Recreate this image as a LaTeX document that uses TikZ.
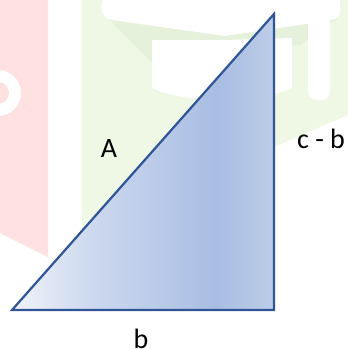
\documentclass[tikz,border=0pt]{standalone}
\usepackage{fontspec}
\setmainfont{Carlito}
\definecolor{edgeblue}{HTML}{2F5597}
\definecolor{gl}{HTML}{F0F3FA}
\definecolor{gm}{HTML}{CDD9EF}
\definecolor{gd}{HTML}{A9BDE3}
\definecolor{gr}{HTML}{BDCDE8}
\definecolor{wmpink}{HTML}{FFE1E1}
\definecolor{wmgreen}{HTML}{EEF8E5}
\definecolor{wmgreend}{HTML}{E5F1DA}
\pgfdeclarehorizontalshading{tri}{100bp}{color(0bp)=(gl); color(25bp)=(gl); color(40bp)=(gm); color(64bp)=(gd); color(75bp)=(gr); color(100bp)=(gr)}
\tikzset{
  lbl/.style={font=\fontsize{28}{30}\selectfont, text=black, anchor=base, inner sep=0pt},
  tribox/.style={draw=edgeblue, line width=2.2pt, line join=miter, shading=tri, shading angle=0}
}
\begin{document}
\begin{tikzpicture}[x=1pt,y=-1pt]
\useasboundingbox (0,0) rectangle (348,349);
% watermark
\fill[wmpink] (0,0) -- (48,0) -- (48,257) -- (0,233) -- cycle;
\fill[white] (-2,93) circle[radius=23];
\fill[wmpink] (-2,93) circle[radius=11];
\fill[wmgreen] (82,0) -- (348,0) -- (348,115) -- (82,230) -- cycle;
\fill[wmgreend] (108,18) -- (338,18) -- (300,45) -- (230,48) -- (152,62) -- cycle;
\fill[white] (103,0) -- (340,0) -- (340,14) .. controls (336,22) and (320,22) .. (313,23) -- (225,36) -- (112,20) .. controls (100,18) and (100,6) .. (103,0) -- cycle;
\fill[white] (152,40) -- (225,40) -- (292,38) -- (292,88) .. controls (260,104) and (185,104) .. (152,88) -- cycle;
\fill[white, rounded corners=9] (308,-10) rectangle (330,100);
% triangle
\coordinate (p1) at (12,310);
\coordinate (p2) at (274,310);
\coordinate (p3) at (274,14);
\path[tribox] (p1) -- (p2) -- (p3) -- cycle;
\node[lbl] (la) at (109,157) {A};
\node[lbl] (lcb) at (321,148) {c - b};
\node[lbl] (lb) at (141,348) {b};
\end{tikzpicture}
\end{document}
